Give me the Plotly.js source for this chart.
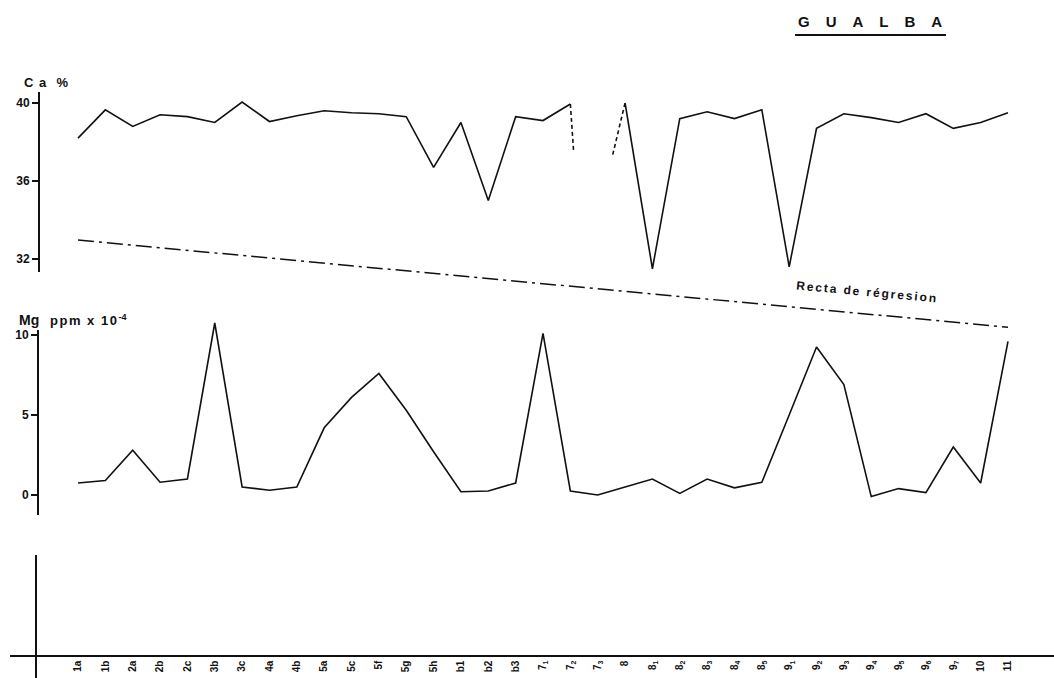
<!DOCTYPE html>
<html><head><meta charset="utf-8">
<script src="https://cdn.plot.ly/plotly-3.0.1.min.js"></script>
<style>html,body{margin:0;padding:0;background:#fff;}</style>
</head><body><div id="chart" style="width:1054px;height:678px;"></div>
<script>
// ---- data ----
const samples = ['1a','1b','2a','2b','2c','3b','3c','4a','4b','5a','5c','5f','5g','5h','b1','b2','b3',
  '7<sub>1</sub>','7<sub>2</sub>','7<sub>3</sub>','8','8<sub>1</sub>','8<sub>2</sub>','8<sub>3</sub>','8<sub>4</sub>','8<sub>5</sub>',
  '9<sub>1</sub>','9<sub>2</sub>','9<sub>3</sub>','9<sub>4</sub>','9<sub>5</sub>','9<sub>6</sub>','9<sub>7</sub>','10','11'];
const caPct = [38.2,39.65,38.8,39.4,39.3,39.0,40.05,39.05,39.35,39.6,39.5,39.45,39.3,36.7,39.0,35.0,39.3,39.1,39.95,null,
  40.0,31.5,39.2,39.55,39.2,39.65,31.6,38.7,39.45,39.25,39.0,39.45,38.7,39.0,39.5];
const mgPpm = [0.75,0.9,2.8,0.8,1.0,10.75,0.5,0.3,0.5,4.2,6.1,7.6,5.3,2.7,0.2,0.25,0.75,10.1,0.25,0.0,
  0.5,1.0,0.1,1.0,0.45,0.8,5.0,9.25,6.9,-0.1,0.4,0.15,3.0,0.75,9.6];
// dashed stubs around the missing Ca value (7_3)
const caStubAX = [18, 18.12], caStubAY = [39.95, 37.5];
const caStubBX = [19.55, 20], caStubBY = [37.35, 40.0];
// regression line (Ca %), ends at first and last sample
const regX = [0, 34];
const regY = [32.97, 28.5];
const caTicks = [32, 36, 40];
const mgTicks = [0, 5, 10];

// ---- layout helpers ----
const W = 1054, H = 678;
const px = p => p / W;
const py = p => 1 - p / H;
function rangeFor(topPx, botPx, refVal, refPx, perUnit) {
  return [refVal - (botPx - refPx) / perUnit, refVal + (refPx - topPx) / perUnit];
}
const idx = samples.map((_, i) => i);
const unit = 930 / 34;
const xr0 = -(78 - 10) / unit;
const xr1 = xr0 + 1044 / unit;
const ink = '#111';
const fontFam = 'Liberation Sans, Arial, sans-serif';

const traces = [
  {x: idx, y: caPct, xaxis: 'x', yaxis: 'y4', mode: 'lines', line: {color: ink, width: 1.6}, connectgaps: false, hoverinfo: 'skip'},
  {x: caStubAX, y: caStubAY, xaxis: 'x', yaxis: 'y4', mode: 'lines', line: {color: ink, width: 1.6, dash: '4px,3px'}, hoverinfo: 'skip'},
  {x: caStubBX, y: caStubBY, xaxis: 'x', yaxis: 'y4', mode: 'lines', line: {color: ink, width: 1.6, dash: '4px,3px'}, hoverinfo: 'skip'},
  {x: idx, y: mgPpm, xaxis: 'x', yaxis: 'y5', mode: 'lines', line: {color: ink, width: 1.6}, hoverinfo: 'skip'},
  {x: regX, y: regY, xaxis: 'x', yaxis: 'y4', mode: 'lines', line: {color: ink, width: 1.5, dash: '16px,5px,3px,5px'}, hoverinfo: 'skip'},
  {x: [], y: [], xaxis: 'x', yaxis: 'y', mode: 'lines', hoverinfo: 'skip'},
  {x: [], y: [], xaxis: 'x', yaxis: 'y2', mode: 'lines', hoverinfo: 'skip'},
  {x: [], y: [], xaxis: 'x', yaxis: 'y3', mode: 'lines', hoverinfo: 'skip'}
];

const yCommon = {anchor: 'free', showline: true, linecolor: ink, linewidth: 1.6, showgrid: false, zeroline: false,
  ticks: 'outside', ticklen: 6, tickwidth: 1.5, tickcolor: ink,
  tickfont: {family: fontFam, size: 12, color: ink, weight: 'bold'}, fixedrange: true};

const layout = {
  width: W, height: H,
  margin: {l: 0, r: 0, t: 0, b: 0, pad: 0},
  paper_bgcolor: '#ffffff', plot_bgcolor: 'rgba(0,0,0,0)',
  showlegend: false,
  font: {family: fontFam, color: ink},
  xaxis: {domain: [px(10), 1], range: [xr0, xr1], anchor: 'free', position: py(655),
    showline: true, linecolor: ink, linewidth: 1.6, showgrid: false, zeroline: false,
    tickmode: 'array', tickvals: idx, ticktext: samples, tickangle: -90, ticks: '',
    tickfont: {family: fontFam, size: 10, color: ink, weight: 'bold'}, fixedrange: true},
  yaxis: Object.assign({}, yCommon, {domain: [py(272), py(92)], range: rangeFor(92, 272, 40, 103, 19.5),
    position: px(38), tickmode: 'array', tickvals: caTicks}),
  yaxis2: Object.assign({}, yCommon, {domain: [py(515), py(330)], range: rangeFor(330, 515, 10, 335, 16),
    position: px(37), tickmode: 'array', tickvals: mgTicks}),
  yaxis3: {domain: [0, py(555)], range: [0, 1], anchor: 'free', position: px(35), showline: true,
    linecolor: ink, linewidth: 1.6, showgrid: false, zeroline: false, showticklabels: false, ticks: '', fixedrange: true},
  // hidden axes sharing the visible scales, so lines may run past the drawn axis lines
  yaxis4: {domain: [py(340), py(85)], range: rangeFor(85, 340, 40, 103, 19.5), anchor: 'free', position: 0,
    visible: false, fixedrange: true},
  yaxis5: {domain: [py(520), py(305)], range: rangeFor(305, 520, 10, 335, 16), anchor: 'free', position: 0,
    visible: false, fixedrange: true},
  annotations: [
    {xref: 'paper', yref: 'paper', x: px(796), y: py(21), xanchor: 'left', yanchor: 'middle', showarrow: false,
      text: '<b><span style="letter-spacing:16px">GUALBA</span></b>', font: {size: 15, color: ink}},
    {xref: 'paper', yref: 'paper', x: px(22), y: py(82), xanchor: 'left', yanchor: 'middle', showarrow: false,
      text: '<b><span style="letter-spacing:1px">C a  %</span></b>', font: {size: 13, color: ink}},
    {xref: 'paper', yref: 'paper', x: px(17), y: py(320), xanchor: 'left', yanchor: 'middle', showarrow: false,
      text: '<b><span style="font-size:14px">Mg</span>   <span style="letter-spacing:1.5px">ppm x 10</span><sup>-4</sup></b>', font: {size: 13, color: ink}},
    {xref: 'paper', yref: 'paper', x: px(867), y: py(292), xanchor: 'center', yanchor: 'middle', showarrow: false,
      textangle: 5.3, text: '<b><span style="letter-spacing:1.9px">Recta de régresion</span></b>', font: {size: 12, color: ink}}
  ],
  shapes: [
    {type: 'line', xref: 'paper', yref: 'paper', x0: px(795), x1: px(946), y0: py(35), y1: py(35),
      line: {color: ink, width: 2}}
  ]
};

Plotly.newPlot('chart', traces, layout, {displayModeBar: false, staticPlot: true});
</script>
</body></html>
